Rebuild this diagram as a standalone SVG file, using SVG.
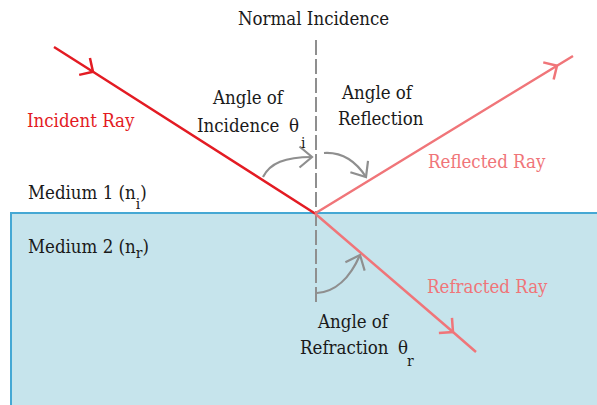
<svg xmlns="http://www.w3.org/2000/svg" width="597" height="405" viewBox="0 0 597 405">
<style>
text { font-family: 'DejaVu Serif Condensed', 'DejaVu Serif', serif; font-stretch: condensed; font-size: 18.5px; fill: #1a1a1a; }
.red { fill: #E31B23; }
.salmon { fill: #F07579; }
.sub { font-size: 15.5px; }
.ray-red { stroke: #E31B23; stroke-width: 2.5; fill: none; }
.ray-sal { stroke: #F07579; stroke-width: 2.5; fill: none; }
.gray { stroke: #8F8F8F; stroke-width: 2.2; fill: none; }
</style>
<defs>
<marker id="chevRed" markerUnits="userSpaceOnUse" viewBox="-20 -20 40 40" markerWidth="40" markerHeight="40" refX="0" refY="0" orient="auto">
<path d="M-10,-10 L0,0 L-10,10" fill="none" stroke="#E31B23" stroke-width="2.5"/>
</marker>
<marker id="chevSal" markerUnits="userSpaceOnUse" viewBox="-20 -20 40 40" markerWidth="40" markerHeight="40" refX="0" refY="0" orient="auto">
<path d="M-10,-10 L0,0 L-10,10" fill="none" stroke="#F07579" stroke-width="2.5"/>
</marker>
<marker id="chevGray" markerUnits="userSpaceOnUse" viewBox="-20 -20 40 40" markerWidth="40" markerHeight="40" refX="0" refY="0" orient="auto">
<path d="M-12.5,-10.5 L0,0 L-12.5,10.5" fill="none" stroke="#8F8F8F" stroke-width="2.2"/>
</marker>
</defs>
<rect width="597" height="405" fill="#ffffff"/>
<g id="medium2">
<rect x="11" y="213" width="600" height="200" fill="#C6E4EC" stroke="#45A8D4" stroke-width="2"/>
</g>
<g id="normal">
<line x1="316" y1="40" x2="316" y2="306" stroke="#8F8F8F" stroke-width="2" stroke-dasharray="15,4"/>
</g>
<g id="connectors">
<path class="ray-red" d="M54,47 L93,71.8 L315,213.5" marker-mid="url(#chevRed)"/>
<path class="ray-sal" d="M315,213.5 L557,65.7 L573,56" marker-mid="url(#chevSal)"/>
<path class="ray-sal" d="M315,213.5 L453,332 L476,352" marker-mid="url(#chevSal)"/>
<path class="gray" d="M263,177 C270,163 285,157 312,157" marker-end="url(#chevGray)"/>
<path class="gray" d="M324,153 C340,152 355,160 366,177" marker-end="url(#chevGray)"/>
<path class="gray" d="M317,293 C335,292 350,278 360,255" marker-end="url(#chevGray)"/>
</g>
<g id="labels">
<text x="238" y="25">Normal Incidence</text>
<text x="27" y="127" class="red">Incident Ray</text>
<text x="213" y="104">Angle of</text>
<text x="197" y="132">Incidence</text>
<text x="289" y="132">θ</text>
<text x="301" y="148" class="sub">i</text>
<text x="342" y="99">Angle of</text>
<text x="338" y="125">Reflection</text>
<text x="428" y="168" class="salmon">Reflected Ray</text>
<text x="28" y="199">Medium 1 (n<tspan class="sub" dy="10">i</tspan><tspan dy="-10">)</tspan></text>
<text x="28" y="253">Medium 2 (n<tspan class="sub" dy="5">r</tspan><tspan dy="-5">)</tspan></text>
<text x="427" y="293" class="salmon">Refracted Ray</text>
<text x="318" y="328">Angle of</text>
<text x="300" y="354">Refraction</text>
<text x="398" y="354">θ</text>
<text x="407" y="366" class="sub">r</text>
</g>
</svg>
